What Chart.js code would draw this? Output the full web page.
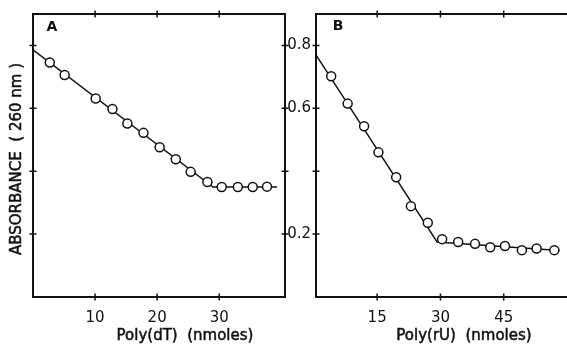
<!DOCTYPE html>
<html>
<head>
<meta charset="utf-8">
<script src="https://cdn.jsdelivr.net/npm/chart.js@4"></script>
<style>
  html, body { margin: 0; padding: 0; background: #fff; overflow: hidden; }
  #wrap { position: relative; width: 567px; height: 347px; }
  canvas { position: absolute; top: 0; }
  #chartA { left: 0; }
  #chartB { left: 280px; }
</style>
</head>
<body>
<div id="wrap">
  <canvas id="chartA" width="300" height="347"></canvas>
  <canvas id="chartB" width="287" height="347"></canvas>
</div>
<script>
// shared absorbance axis
const yTicks = [0.2, 0.4, 0.6, 0.8];
const yTickLabels = ['0.2', '', '0.6', '0.8'];

// panel A - poly(dT)
const xTicksA = [10, 20, 30];
const dtAmount = [2.7, 5.1, 10.1, 12.8, 15.2, 17.8, 20.4, 23.0, 25.4, 28.1, 30.4, 33.0, 35.4, 37.7];
const dtAbsorbance = [0.746, 0.706, 0.631, 0.598, 0.552, 0.522, 0.476, 0.438, 0.398, 0.366, 0.350, 0.350, 0.350, 0.351];
const dtFitX = [0, 29.0, 39.3];
const dtFitY = [0.786, 0.350, 0.350];

// panel B - poly(rU)
const xTicksB = [15, 30, 45];
const rUAmount = [4.1, 8.0, 11.9, 15.3, 19.5, 23.0, 27.0, 30.4, 34.2, 38.2, 41.8, 45.3, 49.3, 52.8, 57.0];
const rUAbsorbance = [0.702, 0.615, 0.543, 0.460, 0.381, 0.289, 0.236, 0.184, 0.175, 0.169, 0.158, 0.162, 0.149, 0.154, 0.149];
const rUFitX = [0.5, 29.2, 58.2];
const rUFitY = [0.770, 0.175, 0.148];

const INK = '#111';
const FONT = '"DejaVu Sans", sans-serif';

const toPoints = (xs, ys) => xs.map((x, i) => ({ x: x, y: ys[i] }));

// frame box plus small ticks crossing each side
const frameTicks = {
    id: 'frameTicks',
    afterDraw(chart, args, opts) {
        const { ctx, chartArea: a, scales } = chart;
        const t = 3.5;
        ctx.save();
        ctx.strokeStyle = INK;
        ctx.lineWidth = 2;
        ctx.beginPath();
        ctx.moveTo(a.right + 1, a.top);
        ctx.lineTo(a.left, a.top);
        ctx.lineTo(a.left, a.bottom);
        ctx.lineTo(a.right + 1, a.bottom);
        if (opts.right) {
            ctx.moveTo(a.right, a.top);
            ctx.lineTo(a.right, a.bottom);
        }
        ctx.stroke();

        ctx.lineWidth = 1.5;
        ctx.beginPath();
        scales.x.ticks.forEach(tk => {
            const px = scales.x.getPixelForValue(tk.value);
            ctx.moveTo(px, a.top - t); ctx.lineTo(px, a.top + t);
            ctx.moveTo(px, a.bottom - t); ctx.lineTo(px, a.bottom + t);
        });
        scales.y.ticks.forEach(tk => {
            const py = scales.y.getPixelForValue(tk.value);
            ctx.moveTo(a.left - t, py); ctx.lineTo(a.left + t, py);
            if (opts.right) {
                ctx.moveTo(a.right - t, py); ctx.lineTo(a.right + t, py);
            }
        });
        ctx.stroke();
        ctx.restore();
    }
};

// panel letter and axis titles (slightly stroked to match the heavy print)
const panelText = {
    id: 'panelText',
    afterDraw(chart, args, opts) {
        const { ctx, chartArea: a } = chart;
        const heavy = (txt, x, y) => { ctx.fillText(txt, x, y); ctx.strokeText(txt, x, y); };
        ctx.save();
        ctx.fillStyle = INK;
        ctx.strokeStyle = INK;
        ctx.lineWidth = 0.5;
        ctx.textAlign = 'center';
        ctx.textBaseline = 'middle';
        ctx.font = 'bold 14px ' + FONT;
        ctx.fillText(opts.letter, a.left + opts.letterX, a.top + opts.letterY);
        ctx.font = '15px ' + FONT;
        heavy(opts.xTitle, opts.xTitleX, opts.xTitleY);
        if (opts.yTitle) {
            ctx.translate(opts.yTitleX, opts.yTitleY);
            ctx.rotate(-Math.PI / 2);
            heavy(opts.yTitle, 0, 0);
        }
        ctx.restore();
    }
};

function makePanel(id, cfg) {
    const ctx = document.getElementById(id).getContext('2d');
    return new Chart(ctx, {
        type: 'scatter',
        data: {
            datasets: [
                {
                    data: toPoints(cfg.xs, cfg.ys),
                    pointRadius: 4.5,
                    pointBorderWidth: 1.5,
                    pointBackgroundColor: '#fff',
                    pointBorderColor: INK,
                    showLine: false
                },
                {
                    data: toPoints(cfg.fitX, cfg.fitY),
                    showLine: true,
                    pointRadius: 0,
                    borderColor: INK,
                    borderWidth: 1.4
                }
            ]
        },
        options: {
            responsive: false,
            animation: false,
            layout: { padding: cfg.padding, autoPadding: false },
            scales: {
                x: {
                    type: 'linear',
                    min: cfg.xMin,
                    max: cfg.xMax,
                    afterBuildTicks: s => { s.ticks = cfg.xTicks.map(v => ({ value: v })); },
                    afterFit: s => { s.height = 50; },
                    grid: { display: false, drawTicks: false },
                    border: { display: false },
                    ticks: {
                        padding: 12,
                        color: INK,
                        font: { family: FONT, size: 15 },
                        maxRotation: 0,
                        callback: v => String(v)
                    }
                },
                y: {
                    type: 'linear',
                    min: 0,
                    max: 0.9,
                    display: cfg.showY,
                    afterBuildTicks: s => { s.ticks = yTicks.map(v => ({ value: v })); },
                    afterFit: s => { s.width = cfg.showY ? 36 : 0; },
                    grid: { display: false, drawTicks: false },
                    border: { display: false },
                    ticks: {
                        padding: 5,
                        color: INK,
                        font: { family: FONT, size: 15 },
                        callback: v => yTickLabels[yTicks.indexOf(Math.round(v * 10) / 10)] || ''
                    }
                }
            },
            plugins: {
                legend: { display: false },
                tooltip: { enabled: false },
                frameTicks: { right: cfg.right },
                panelText: cfg.text
            }
        },
        plugins: [frameTicks, panelText]
    });
}

makePanel('chartA', {
    xs: dtAmount, ys: dtAbsorbance, fitX: dtFitX, fitY: dtFitY,
    xMin: 0, xMax: 40.6, xTicks: xTicksA,
    showY: false, right: true,
    padding: { left: 33, top: 14, right: 15, bottom: 0 },
    text: {
        letter: 'A', letterX: 19, letterY: 13,
        xTitle: 'Poly(dT)  (nmoles)', xTitleX: 185, xTitleY: 336,
        yTitle: 'ABSORBANCE  ( 260 nm )', yTitleX: 17, yTitleY: 159
    }
});

makePanel('chartB', {
    xs: rUAmount, ys: rUAbsorbance, fitX: rUFitX, fitY: rUFitY,
    xMin: 0.5, xMax: 60, xTicks: xTicksB,
    showY: true, right: false,
    padding: { left: 0, top: 14, right: 0, bottom: 0 },
    text: {
        letter: 'B', letterX: 22, letterY: 12,
        xTitle: 'Poly(rU)  (nmoles)', xTitleX: 184, xTitleY: 336
    }
});
</script>
</body>
</html>
